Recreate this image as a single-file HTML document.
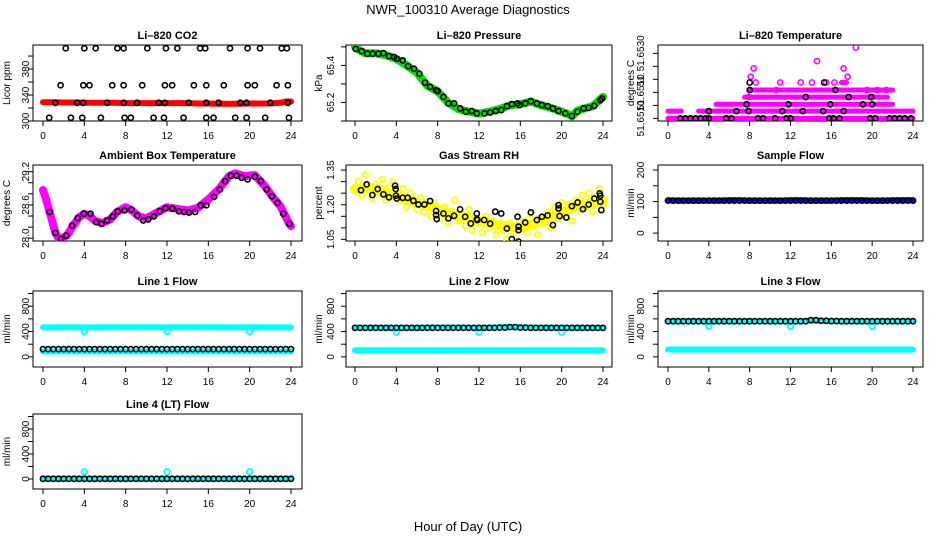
<!DOCTYPE html>
<html><head><meta charset="utf-8"><title>NWR_100310 Average Diagnostics</title>
<style>
html,body{margin:0;padding:0;background:#fff;}
svg{display:block;font-family:"Liberation Sans",sans-serif;}
</style></head>
<body>
<svg id="chart" width="936" height="540" viewBox="0 0 936 540" xmlns="http://www.w3.org/2000/svg">
<rect x="0" y="0" width="936" height="540" fill="#fff"/>
<text x="468" y="14" text-anchor="middle" font-size="13">NWR_100310  Average Diagnostics</text>
<text x="468" y="531" text-anchor="middle" font-size="13">Hour of Day (UTC)</text>
</svg>
<script>
// ---------- data ----------
const hourTicks = [0,4,8,12,16,20,24];

// CO2
const co2TopH = [2.2,4.0,5.1,7.2,7.8,10.1,11.9,13.0,15.2,15.7,18.1,19.8,21.0,23.1,23.6];
const co2TopV = 412;
const co2MidH = [1.7,3.9,4.5,6.7,7.8,9.6,11.8,12.5,14.6,15.8,17.5,19.8,20.5,22.6,23.7];
const co2MidV = 355;
const co2LowH = [1.2,3.3,3.9,6.2,7.8,9.1,11.2,11.8,14.1,15.8,17.0,19.1,19.7,22.0,23.7];
const co2LowV = 328;
const co2BotH = [0.6,2.7,3.8,5.6,7.9,8.5,10.7,11.7,13.6,15.8,16.5,18.6,19.7,21.5,23.8];
const co2BotV = 305;
const co2RedH = [0,1,2,3,4,5,6,7,8,9,10,11,12,13,14,15,16,17,18,19,20,21,22,23,23.5,24];
const co2RedV = [329,329,328.5,328.5,328,328,328,328,327.5,327.5,327.5,327.5,327.5,327.5,327.5,327,327,326.5,326.5,326.5,327,327,327,328,330,330];

// Pressure
const presH = [0.06,0.65,1.2,1.71,2.26,2.75,3.29,3.78,4.04,4.62,5.14,5.72,6.23,6.78,7.27,7.85,8.01,8.56,9.04,9.59,10.17,10.72,11.3,11.79,12.53,13.08,13.63,14.15,14.7,15.18,15.73,15.92,16.47,17.02,17.6,18.09,18.64,19.15,19.7,20.35,20.99,21.54,22.13,22.61,23.16,23.74,23.9];
const presV = [65.489,65.477,65.463,65.463,65.463,65.466,65.450,65.445,65.436,65.427,65.396,65.382,65.355,65.307,65.284,65.266,65.261,65.230,65.195,65.195,65.168,65.150,65.154,65.141,65.141,65.146,65.154,65.159,65.180,65.191,65.195,65.186,65.195,65.207,65.195,65.186,65.180,65.168,65.154,65.141,65.127,65.150,65.168,65.171,65.182,65.212,65.221];
const presGreenH = [0,0.5,1,2,3,4,5,6,7,8,9,10,11,12,13,14,15,16,17,18,19,20,20.5,21,21.5,22,23,24];
const presGreenV = [65.50,65.48,65.465,65.465,65.455,65.435,65.40,65.36,65.29,65.26,65.20,65.165,65.15,65.14,65.15,65.165,65.185,65.19,65.205,65.185,65.17,65.15,65.14,65.125,65.155,65.165,65.18,65.23];

// Li-820 temperature
const tempRunStart = [0,0,3.0,4.7,7.5,8.0,10.6,17.0];
const tempRunEnd   = [24,1.3,24,22.0,21.5,22.0,12.6,17.5];
const tempRunVal   = [51.6505,51.65078,51.65078,51.65104,51.65132,51.65159,51.65159,51.65188];
const tempMagH = [8.1,8.4,8.6,10.6,11.0,13.0,14.1,14.6,15.5,16.3,17.2,17.6,18.4,7.9,19.5,20.5,21.4];
const tempMagV = [51.6521,51.65242,51.65188,51.65159,51.65188,51.65188,51.65188,51.6527,51.65188,51.65188,51.65242,51.6521,51.65322,51.65132,51.65159,51.65159,51.65159];
const tempBlkH = [1.2,1.7,2.2,2.7,3.2,3.7,4.0,5.7,6.2,8.8,9.3,10.5,11.6,12.0,15.8,16.2,16.8,19.8,20.3,21.7,22.2,22.7,23.2,23.8,4.0,6.7,7.9,11.2,13.2,15.2,17.2,7.7,11.8,15.9,19.1,20.0,13.5,17.7,19.9,8.0,16.4,8.0,15.3];
const tempBlkV = [51.6505,51.6505,51.6505,51.6505,51.6505,51.6505,51.6505,51.6505,51.6505,51.6505,51.6505,51.6505,51.6505,51.6505,51.6505,51.6505,51.6505,51.6505,51.6505,51.6505,51.6505,51.6505,51.6505,51.6505,51.65078,51.65078,51.65078,51.65078,51.65078,51.65078,51.65078,51.65104,51.65104,51.65104,51.65104,51.65104,51.65132,51.65132,51.65132,51.65159,51.65159,51.65188,51.65188];

// Ambient box temperature
const ambH = [0.65,1.2,1.75,2.26,2.81,3.36,3.95,4.59,5.14,5.66,6.21,6.76,7.24,7.89,8.57,9.12,9.7,10.19,10.74,11.29,11.87,12.52,13.16,13.65,14.13,14.72,15.27,15.81,16.56,17.11,17.63,18.18,18.73,19.22,19.8,20.5,21.09,21.64,22.15,22.7,23.25,23.84];
const ambV = [28.473,28.097,27.988,28.048,28.230,28.364,28.442,28.442,28.291,28.261,28.321,28.394,28.485,28.503,28.515,28.412,28.321,28.339,28.394,28.485,28.545,28.533,28.485,28.473,28.461,28.473,28.594,28.594,28.745,28.879,29.030,29.127,29.127,29.091,29.061,29.109,29.030,28.879,28.758,28.636,28.442,28.261];
const ambMagH = [0,0.3,0.65,1.2,1.6,2.3,3,3.5,4,4.5,5,5.7,6.5,7.2,8,8.6,9.3,10,11,12,13,14,15,16,17,18,18.6,19.5,20.5,21.5,22.2,23,23.8,24];
const ambMagV = [28.87,28.7,28.47,28.10,27.97,28.05,28.25,28.38,28.44,28.40,28.32,28.27,28.34,28.48,28.56,28.50,28.39,28.36,28.46,28.56,28.53,28.50,28.55,28.70,28.88,29.12,29.17,29.12,29.14,28.93,28.75,28.57,28.27,28.22];

// Gas stream RH
const rhH = [0.58,1.13,1.68,2.2,2.75,3.29,3.88,3.94,3.97,4.04,4.62,5.1,5.65,6.14,6.72,7.27,7.85,7.85,7.91,8.56,9.04,9.59,10.17,10.66,11.21,11.79,11.79,11.85,12.5,13.08,13.57,14.15,14.7,15.18,15.73,15.83,15.83,15.83,16.47,17.02,17.6,18.09,18.64,19.15,19.7,19.7,19.8,20.45,20.99,21.54,22.06,22.61,23.16,23.68,23.74,23.74,23.84];
const rhV = [1.263,1.288,1.242,1.268,1.245,1.232,1.282,1.268,1.239,1.227,1.230,1.230,1.217,1.201,1.201,1.216,1.173,1.155,1.138,1.162,1.141,1.152,1.180,1.148,1.119,1.162,1.138,1.134,1.134,1.118,1.170,1.162,1.097,1.051,1.148,1.105,1.090,1.040,1.123,1.167,1.134,1.148,1.154,1.112,1.184,1.198,1.151,1.145,1.194,1.210,1.181,1.201,1.227,1.249,1.239,1.213,1.177];
const rhYel = [1.26,1.30,1.24,1.33,1.27,1.23,1.29,1.25,1.31,1.22,1.28,1.30,1.24,1.22,1.27,1.19,1.25,1.21,1.18,1.23,1.17,1.20,1.15,1.21,1.18,1.14,1.19,1.12,1.17,1.22,1.13,1.16,1.11,1.18,1.09,1.14,1.12,1.08,1.15,1.10,1.13,1.07,1.12,1.09,1.05,1.12,1.08,1.04,1.10,1.13,1.08,1.16,1.11,1.07,1.14,1.12,1.17,1.10,1.19,1.14,1.21,1.16,1.20,1.13,1.22,1.18,1.24,1.19,1.25,1.17,1.22,1.27,1.20];
const rhTrendH = [0,2,4,6,8,10,12,14,16,18,20,22,24];
const rhTrendV = [1.27,1.27,1.24,1.21,1.18,1.15,1.13,1.11,1.10,1.13,1.17,1.20,1.22];

// Flows (hourly levels)
const flowH = [0,1,2,3,4,5,6,7,8,9,10,11,12,13,14,15,16,17,18,19,20,21,22,23,24];
const sampleBlue  = [104,103,103,103,103,103,104,104,103,103,103,103,104,104,103,103,103,104,104,104,103,103,104,104,104];
const sampleBlack = [103,103,103,103,103,103,103,103,103,103,103,103,103,103,103,103,103,103,103,103,103,103,103,103,103];
const line1Upper = [466,466,468,468,466,466,468,468,468,468,468,468,466,468,468,468,468,468,466,466,468,466,466,466,466];
const line1Lower = [86,86,86,86,86,86,86,86,86,86,86,86,86,86,86,86,86,86,86,86,86,86,86,86,86];
const line1Black = [122,122,122,122,122,122,122,122,122,122,122,122,122,122,122,122,122,122,122,122,122,122,122,122,122];
const line2Upper = [465,460,460,460,460,460,460,465,465,465,465,462,462,462,470,470,465,465,462,462,462,460,460,460,460];
const line2Lower = [105,105,105,105,105,105,105,105,105,105,105,105,105,105,105,105,105,105,105,105,105,105,105,105,105];
const line2Black = [458,458,458,458,458,458,458,458,458,458,458,458,458,458,462,470,462,458,458,458,458,458,458,458,458];
const line3Upper = [560,560,560,560,560,560,560,560,560,560,560,560,560,560,570,565,565,560,560,560,560,560,560,560,560];
const line3Lower = [116,116,116,116,116,116,116,116,116,116,116,116,116,116,116,116,116,116,116,116,116,116,116,116,116];
const line3Black = [563,563,563,563,563,563,563,563,563,563,563,563,563,563,580,570,565,563,563,563,563,563,563,563,563];
const line4Cyan  = [5,5,5,5,5,5,5,5,5,5,5,5,5,5,5,5,5,5,5,5,5,5,5,5,5];
const line4Black = [3,3,3,3,3,3,3,3,3,3,3,3,3,3,3,3,3,3,3,3,3,3,3,3,3];
const dipH = [4,12,20];
const line1Dip = [400,400,400];
const line2Dip = [390,390,390];
const line3Dip = [484,484,484];
const line4Bump = [115,115,115];

// ---------- layout ----------
const svg = document.getElementById('chart');
const NS = 'http://www.w3.org/2000/svg';
const colX0 = [43,355,668], colX24 = [291,603,913];
const boxL = [33,346,658], boxR = [302,612,923];
const lblBase = [4,12,14], ttlBase = [23,24,24];
const rowT = [45,165,291,414], rowB = [121,241,367,489];

function mk(tag, attrs, parent){
  const e = document.createElementNS(NS, tag);
  for (const k in attrs) e.setAttribute(k, attrs[k]);
  (parent||svg).appendChild(e);
  return e;
}

function panel(col,row,title,ytitle,dom,ticks,labels,name){
  const g = mk('g',{});
  
  
  const L=boxL[col],R=boxR[col],T=rowT[row],B=rowB[row];
  const x = h => colX0[col] + (h/24)*(colX24[col]-colX0[col]);
  const y = v => B - (v-dom[0])/(dom[1]-dom[0])*(B-T);
  const box = mk('rect',{x:L,y:T,width:R-L,height:B-T,fill:'none',stroke:'#000','stroke-width':1},g);
  
  
  const t = mk('text',{x:(L+R)/2,y:T-6,'text-anchor':'middle','font-size':11,'font-weight':'bold'},g);
  t.textContent = title;
  
  
  const yt = mk('text',{x:0,y:0,'text-anchor':'middle','font-size':10,transform:`translate(${L-ttlBase[col]},${(T+B)/2}) rotate(-90)`},g);
  yt.textContent = ytitle;
  
  
  const ya = mk('g',{},g);
  
  
  ticks.forEach((v,i)=>{
    mk('line',{x1:L-5,x2:L,y1:y(v),y2:y(v),stroke:'#000'},ya);
    if (labels[i]){
      const tl = mk('text',{x:0,y:0,'text-anchor':'middle','font-size':10,transform:`translate(${L-lblBase[col]},${y(v)}) rotate(-90)`},ya);
      tl.textContent = labels[i];
      
      
    }
  });
  const xa = mk('g',{},g);
  
  
  hourTicks.forEach(h=>{
    mk('line',{x1:x(h),x2:x(h),y1:B,y2:B+5,stroke:'#000'},xa);
    const tl = mk('text',{x:x(h),y:B+18,'text-anchor':'middle','font-size':10},xa);
    tl.textContent = h;
    
    
  });
  const clipId = 'clip-'+name;
  const cp = mk('clipPath',{id:clipId},g);
  mk('rect',{x:L,y:T,width:R-L,height:B-T},cp);
  const plot = mk('g',{'clip-path':`url(#${clipId})`},g);
  return {x,y,plot};
}

function pts(p,H,V,color,r,sw,name){
  const g = mk('g',{},p.plot);
  
  
  H.forEach((h,i)=>{
    const v = Array.isArray(V)?V[i]:V;
    const c = mk('circle',{cx:p.x(h),cy:p.y(v),r:r,fill:'none',stroke:color,'stroke-width':sw},g);
    
    
  });
}
function band(p,H,V,color,w,name){
  const d = H.map((h,i)=>p.x(h).toFixed(1)+','+p.y(V[i]).toFixed(1)).join(' ');
  const l = mk('polyline',{points:d,fill:'none',stroke:color,'stroke-width':w,'stroke-linecap':'round','stroke-linejoin':'round'},p.plot);
  
  
}
function halfHourPts(p,H,V,color,name){
  const hh=[],vv=[];
  H.forEach((h,i)=>{hh.push(h);vv.push(V[i]); if(i<H.length-1){hh.push(h+0.5);vv.push(V[i]);}});
  pts(p,hh,vv,color,2.6,1.6,name);
}

const blk='#000', mag='#ff00ff', cyan='#00ffff';

let p = panel(0,0,'Li\u2013820 CO2','Licor ppm',[300,417],[300,320,340,360,380,400],['300','','340','','380',''],'co2');
band(p,co2RedH,co2RedV,'#ff0000',6,'co2-red-series');
pts(p,co2TopH,co2TopV,blk,2.6,1.6,'co2-black-top');
pts(p,co2MidH,co2MidV,blk,2.6,1.6,'co2-black-mid');
pts(p,co2LowH,co2LowV,blk,2.6,1.6,'co2-black-low');
pts(p,co2BotH,co2BotV,blk,2.6,1.6,'co2-black-bottom');

p = panel(1,0,'Li\u2013820 Pressure','kPa',[65.1,65.51],[65.1,65.2,65.3,65.4,65.5],['','65.2','','65.4',''],'pressure');
band(p,presGreenH,presGreenV,'#00dd00',8,'pressure-green-series');
pts(p,presH,presV,blk,2.6,1.6,'pressure-black-series');

p = panel(2,0,'Li\u2013820 Temperature','degrees C',[51.6504,51.65332],[51.6505,51.651,51.6515,51.652,51.6525,51.653],['51.6510','','51.6510','51.','','51.6530'],'li820-temp');
tempRunStart.forEach((s,i)=>{
  band(p,[s,tempRunEnd[i]],[tempRunVal[i],tempRunVal[i]],mag,5,'li820-temp-magenta-run');
});
pts(p,tempMagH,tempMagV,mag,2.6,1.6,'li820-temp-magenta-points');
pts(p,tempBlkH,tempBlkV,blk,2.6,1.6,'li820-temp-black-points');

p = panel(0,1,'Ambient Box Temperature','degrees C',[27.95,29.32],[28.0,28.2,28.4,28.6,28.8,29.0,29.2],['28.0','','','28.6','','','29.2'],'ambient');
band(p,ambMagH,ambMagV,mag,8,'ambient-magenta-series');
pts(p,ambH,ambV,blk,2.6,1.6,'ambient-black-series');

p = panel(1,1,'Gas Stream RH','percent',[1.043,1.372],[1.05,1.10,1.15,1.20,1.25,1.30,1.35],['1.05','','','1.20','','','1.35'],'rh');
band(p,rhTrendH,rhTrendV,'#ffff00',10,'rh-yellow-band');
pts(p,rhYel.map((v,i)=>i/3),rhYel,'#ffff00',2.8,1.8,'rh-yellow-series');
pts(p,rhH,rhV,blk,2.6,1.6,'rh-black-series');

p = panel(2,1,'Sample Flow','ml/min',[-25,216],[0,50,100,150,200],['0','','100','','200'],'sample-flow');
band(p,flowH,sampleBlue,'#0000ff',6,'sample-flow-blue-series');
halfHourPts(p,flowH,sampleBlack,blk,'sample-flow-black-series');

const fDom=[-160,1040], fT=[0,200,400,600,800,1000], fL=['0','','400','','800',''];
p = panel(0,2,'Line 1 Flow','ml/min',fDom,fT,fL,'line1-flow');
band(p,flowH,line1Upper,cyan,6,'line1-cyan-upper');
band(p,flowH,line1Lower,cyan,6,'line1-cyan-lower');
pts(p,dipH,line1Dip,cyan,2.8,1.8,'line1-cyan-dips');
halfHourPts(p,flowH,line1Black,blk,'line1-black-series');

p = panel(1,2,'Line 2 Flow','ml/min',fDom,fT,fL,'line2-flow');
band(p,flowH,line2Upper,cyan,6,'line2-cyan-upper');
band(p,flowH,line2Lower,cyan,6,'line2-cyan-lower');
pts(p,dipH,line2Dip,cyan,2.8,1.8,'line2-cyan-dips');
halfHourPts(p,flowH,line2Black,blk,'line2-black-series');

p = panel(2,2,'Line 3 Flow','ml/min',fDom,fT,fL,'line3-flow');
band(p,flowH,line3Upper,cyan,6,'line3-cyan-upper');
band(p,flowH,line3Lower,cyan,6,'line3-cyan-lower');
pts(p,dipH,line3Dip,cyan,2.8,1.8,'line3-cyan-dips');
halfHourPts(p,flowH,line3Black,blk,'line3-black-series');

p = panel(0,3,'Line 4 (LT) Flow','ml/min',fDom,fT,fL,'line4-flow');
band(p,flowH,line4Cyan,cyan,6,'line4-cyan-series');
pts(p,dipH,line4Bump,cyan,2.8,1.8,'line4-cyan-bumps');
halfHourPts(p,flowH,line4Black,blk,'line4-black-series');
</script>
</body></html>
